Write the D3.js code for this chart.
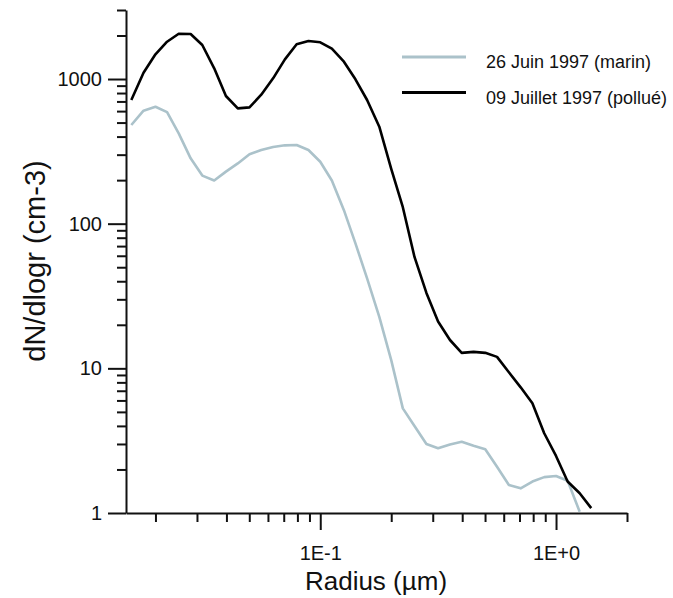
<!DOCTYPE html>
<html lang="fr">
<head>
  <meta charset="UTF-8">
  <title>Distribution en taille des aérosols</title>
  <script src="https://d3js.org/d3.v7.min.js"></script>
  <style>
    body { margin: 0; background: #fff; }
    svg { font-family: "Liberation Sans", Arial, sans-serif; }
    .axis path, .axis line { stroke: #111; stroke-width: 2; }
    .axis text { font-size: 20px; fill: #111; }
    .curve { fill: none; stroke-width: 2.6; stroke-linejoin: round; }
    .legend text { font-size: 18px; fill: #111; }
    .title { fill: #111; }
  </style>
</head>
<body>
  <div id="chart"></div>
  <script>
    // radius (µm), log-spaced sampling
    const radius = [0.0158, 0.0178, 0.02, 0.0224, 0.0251, 0.0282, 0.0316, 0.0355, 0.0398, 0.0447,
                    0.0501, 0.0562, 0.0631, 0.0708, 0.0794, 0.0891, 0.1, 0.112, 0.126, 0.141,
                    0.158, 0.178, 0.2, 0.224, 0.251, 0.282, 0.316, 0.355, 0.398, 0.447,
                    0.501, 0.562, 0.631, 0.708, 0.794, 0.891, 1.0, 1.12, 1.26, 1.41];

    // 26 Juin 1997 (marin)
    const marin = [481, 604, 643, 591, 421, 283, 215, 199, 229, 261,
                   302, 323, 339, 348, 350, 323, 268, 199, 124, 73.1,
                   41.9, 22.7, 11.4, 5.29, 3.99, 3.0, 2.8, 2.98, 3.11, 2.92,
                   2.76, 2.09, 1.56, 1.48, 1.65, 1.77, 1.8, 1.67, 1.02];

    // 09 Juillet 1997 (pollué)
    const pollue = [716, 1105, 1482, 1811, 2057, 2047, 1718, 1186, 763, 627,
                    637, 779, 1011, 1368, 1738, 1832, 1794, 1620, 1318, 995,
                    716, 468, 239, 130, 58.9, 33.2, 21.1, 15.7, 12.8, 13.0,
                    12.8, 12.0, 9.39, 7.39, 5.73, 3.56, 2.48, 1.65, 1.37, 1.08];

    const seriesNames = ["26 Juin 1997 (marin)", "09 Juillet 1997 (pollué)"];
    const seriesColors = ["#abc2ca", "#000000"];

    const xMajor = [0.1, 1];
    const xMajorLabels = ["1E-1", "1E+0"];
    const xMinor = [0.02, 0.03, 0.04, 0.05, 0.06, 0.07, 0.08, 0.09,
                    0.2, 0.3, 0.4, 0.5, 0.6, 0.7, 0.8, 0.9, 2];
    const yMajor = [1, 10, 100, 1000];
    const yMinor = [2, 3, 4, 5, 6, 7, 8, 9, 20, 30, 40, 50, 60, 70, 80, 90,
                    200, 300, 400, 500, 600, 700, 800, 900, 2000, 3000];

    const W = 673, H = 598;
    const plotL = 126, plotR = 627, plotT = 10, plotB = 513;

    const svg = d3.select("#chart").append("svg")
      .attr("width", W).attr("height", H);

    const x = d3.scaleLog().domain([0.015, 2]).range([plotL, plotR]);
    const y = d3.scaleLog().domain([1, 3000]).range([plotB, plotT]);

    // x axis
    svg.append("g").attr("class", "axis")
      .attr("transform", `translate(0,${plotB})`)
      .call(d3.axisBottom(x).tickValues(xMinor).tickSize(9).tickSizeOuter(0).tickFormat(""));
    svg.append("g").attr("class", "axis")
      .attr("transform", `translate(0,${plotB})`)
      .call(d3.axisBottom(x).tickValues(xMajor).tickSize(17).tickSizeOuter(0)
        .tickPadding(16).tickFormat((d, i) => xMajorLabels[i]))
      .call(g => g.select(".domain").remove());

    // y axis
    svg.append("g").attr("class", "axis")
      .attr("transform", `translate(${plotL},0)`)
      .call(d3.axisLeft(y).tickValues(yMinor).tickSize(9).tickSizeOuter(0).tickFormat(""));
    svg.append("g").attr("class", "axis")
      .attr("transform", `translate(${plotL},0)`)
      .call(d3.axisLeft(y).tickValues(yMajor).tickSize(18).tickSizeOuter(0)
        .tickPadding(6).tickFormat(d3.format("d")))
      .call(g => g.select(".domain").remove());

    // curves
    const line = d3.line()
      .x((d, i) => x(radius[i]))
      .y(d => y(d));

    [marin, pollue].forEach((s, i) => {
      svg.append("path")
        .attr("class", "curve")
        .attr("stroke", seriesColors[i])
        .attr("d", line(s));
    });

    // legend
    const legend = svg.append("g").attr("class", "legend");
    seriesNames.forEach((name, i) => {
      const ly = 57 + i * 35.5;
      legend.append("line")
        .attr("x1", 402).attr("x2", 466)
        .attr("y1", ly).attr("y2", ly)
        .attr("stroke", seriesColors[i])
        .attr("stroke-width", 2.8);
      legend.append("text")
        .attr("x", 486).attr("y", ly + 11)
        .text(name);
    });

    // axis titles
    svg.append("text")
      .attr("class", "title")
      .attr("text-anchor", "middle")
      .attr("font-size", 26)
      .attr("x", 376).attr("y", 590)
      .text("Radius (µm)");

    svg.append("text")
      .attr("class", "title")
      .attr("text-anchor", "middle")
      .attr("font-size", 29)
      .attr("transform", "translate(45,261) rotate(-90)")
      .text("dN/dlogr (cm-3)");
  </script>
</body>
</html>
